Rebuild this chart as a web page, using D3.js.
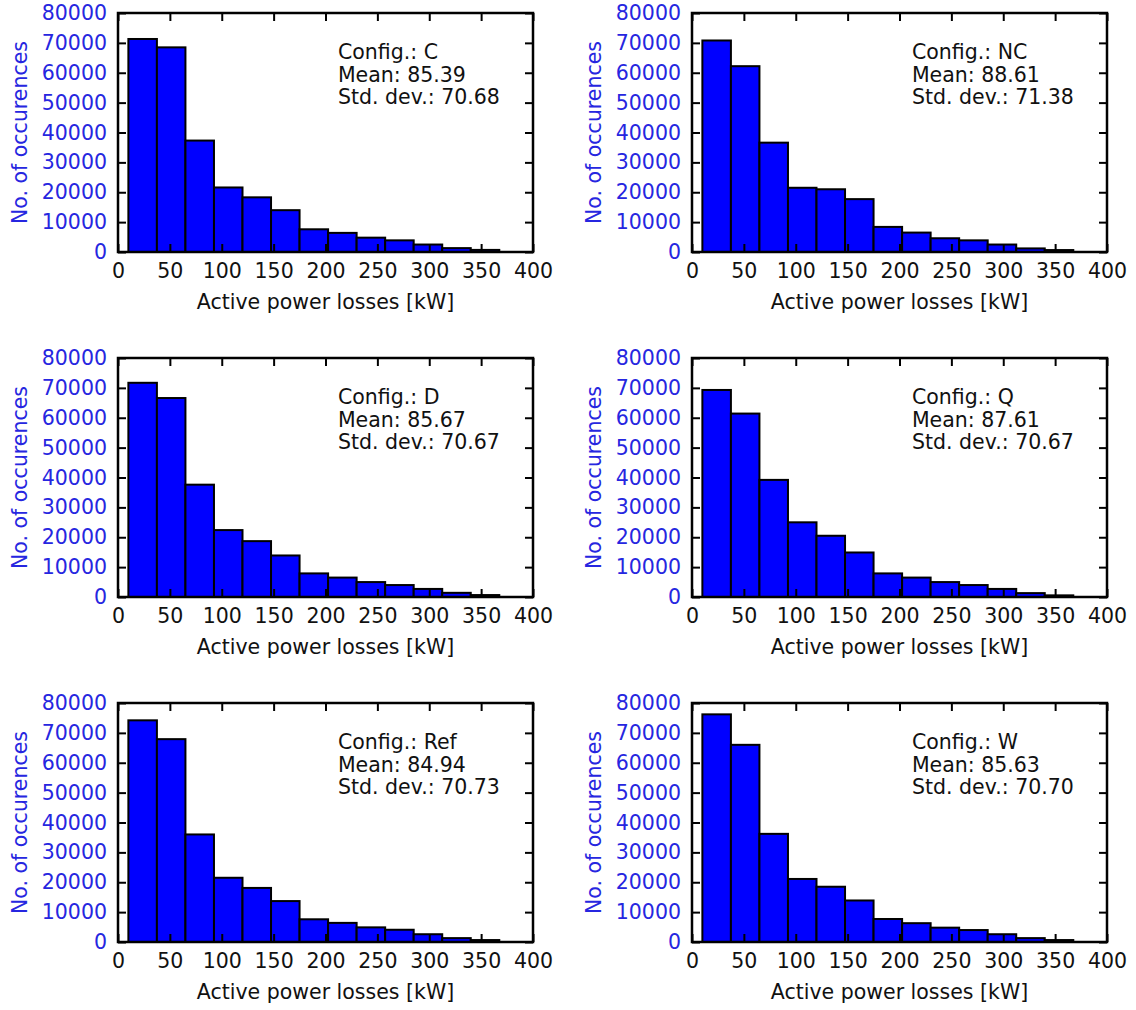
<!DOCTYPE html>
<html>
<head>
<meta charset="utf-8">
<script src="https://cdn.jsdelivr.net/npm/d3@7"></script>
<style>
  html, body { margin: 0; padding: 0; background: #fff; }
  svg { display: block; font-family: "DejaVu Sans", sans-serif; }
</style>
</head>
<body>
<svg id="chart" width="1136" height="1010"></svg>
<script>
// Histogram bin edges of active power losses [kW]
const binEdges = [10, 37.5, 65, 92.5, 120, 147.5, 175, 202.5, 230, 257.5, 285, 312.5, 340, 367.5];

// Configuration names and summary statistics
const configs = ["C", "NC", "D", "Q", "Ref", "W"];
const means   = ["85.39", "88.61", "85.67", "87.61", "84.94", "85.63"];
const stdDevs = ["70.68", "71.38", "70.67", "70.67", "70.73", "70.70"];

// Occurrence counts per bin for each configuration
const countsC   = [71300, 68500, 37300, 21600, 18300, 14000, 7600, 6400, 4800, 3900, 2500, 1300, 700];
const countsNC  = [70800, 62200, 36600, 21500, 21000, 17700, 8400, 6500, 4600, 3900, 2500, 1200, 650];
const countsD   = [71700, 66600, 37600, 22400, 18700, 13900, 7900, 6500, 5000, 4000, 2700, 1400, 650];
const countsQ   = [69300, 61400, 39200, 25000, 20500, 14900, 7900, 6500, 5000, 4000, 2700, 1300, 550];
const countsRef = [74200, 67900, 36000, 21500, 18100, 13700, 7600, 6400, 4900, 4100, 2600, 1300, 650];
const countsW   = [76200, 66000, 36200, 21100, 18500, 13900, 7700, 6300, 4800, 4000, 2600, 1300, 650];
const allCounts = [countsC, countsNC, countsD, countsQ, countsRef, countsW];

// Axis ticks and labels
const xTicks = [0, 50, 100, 150, 200, 250, 300, 350, 400];
const yTicks = [0, 10000, 20000, 30000, 40000, 50000, 60000, 70000, 80000];
const xLabel = "Active power losses [kW]";
const yLabel = "No. of occurences";

// Panel grid layout
const panelLefts = [118, 692];
const panelTops = [13, 358, 703];
const panelW = 415, panelH = 239;

const svg = d3.select("#chart");
const fontSize = 20.5;
const blueText = "#2626e0";
const darkText = "#111";
const tickLen = 8;

configs.forEach((cfg, i) => {
  const col = i % 2, row = Math.floor(i / 2);
  const g = svg.append("g")
    .attr("transform", `translate(${panelLefts[col]},${panelTops[row]})`);

  const x = d3.scaleLinear().domain([0, 400]).range([0, panelW]);
  const y = d3.scaleLinear().domain([0, 80000]).range([panelH, 0]);

  const counts = allCounts[i];
  const bins = counts.map((c, k) => ({ x0: binEdges[k], x1: binEdges[k + 1], c }));

  // bars
  g.selectAll("rect.bar").data(bins).join("rect")
    .attr("class", "bar")
    .attr("x", d => x(d.x0))
    .attr("y", d => y(d.c))
    .attr("width", d => x(d.x1) - x(d.x0))
    .attr("height", d => y(0) - y(d.c))
    .attr("fill", "#0000ff")
    .attr("stroke", "#000")
    .attr("stroke-width", 2);

  // axes with inward ticks on all four sides
  const bottom = g.append("g").attr("transform", `translate(0,${panelH})`)
    .call(d3.axisBottom(x).tickValues(xTicks).tickSize(-tickLen).tickPadding(11).tickFormat(d3.format("d")));
  const left = g.append("g")
    .call(d3.axisLeft(y).tickValues(yTicks).tickSize(-tickLen).tickPadding(11).tickFormat(d3.format("d")));
  const top = g.append("g")
    .call(d3.axisTop(x).tickValues(xTicks).tickSize(-tickLen).tickFormat(""));
  const right = g.append("g").attr("transform", `translate(${panelW},0)`)
    .call(d3.axisRight(y).tickValues(yTicks).tickSize(-tickLen).tickFormat(""));

  [bottom, left, top, right].forEach(a => {
    a.select(".domain").remove();
    a.selectAll(".tick line").attr("stroke", "#000").attr("stroke-width", 2);
    a.selectAll(".tick text").attr("font-size", fontSize).attr("font-family", "DejaVu Sans, sans-serif");
  });
  bottom.selectAll(".tick text").attr("fill", darkText);
  left.selectAll(".tick text").attr("fill", blueText);

  // frame
  g.append("rect")
    .attr("x", 0).attr("y", 0)
    .attr("width", panelW).attr("height", panelH)
    .attr("fill", "none").attr("stroke", "#000").attr("stroke-width", 2.5);

  // axis titles
  g.append("text")
    .attr("x", panelW / 2).attr("y", panelH + 57)
    .attr("text-anchor", "middle")
    .attr("font-size", fontSize).attr("fill", darkText)
    .text(xLabel);
  g.append("text")
    .attr("transform", `translate(${-98},${panelH / 2}) rotate(-90)`)
    .attr("text-anchor", "middle")
    .attr("dy", "0.35em")
    .attr("font-size", fontSize).attr("fill", blueText)
    .text(yLabel);

  // statistics annotation
  const ann = g.append("text")
    .attr("x", x(212)).attr("y", 46)
    .attr("font-size", fontSize).attr("fill", darkText);
  [`Config.: ${cfg}`, `Mean: ${means[i]}`, `Std. dev.: ${stdDevs[i]}`].forEach((t, k) => {
    ann.append("tspan").attr("x", x(212)).attr("y", 46 + k * 22.5).text(t);
  });
});
</script>
</body>
</html>
